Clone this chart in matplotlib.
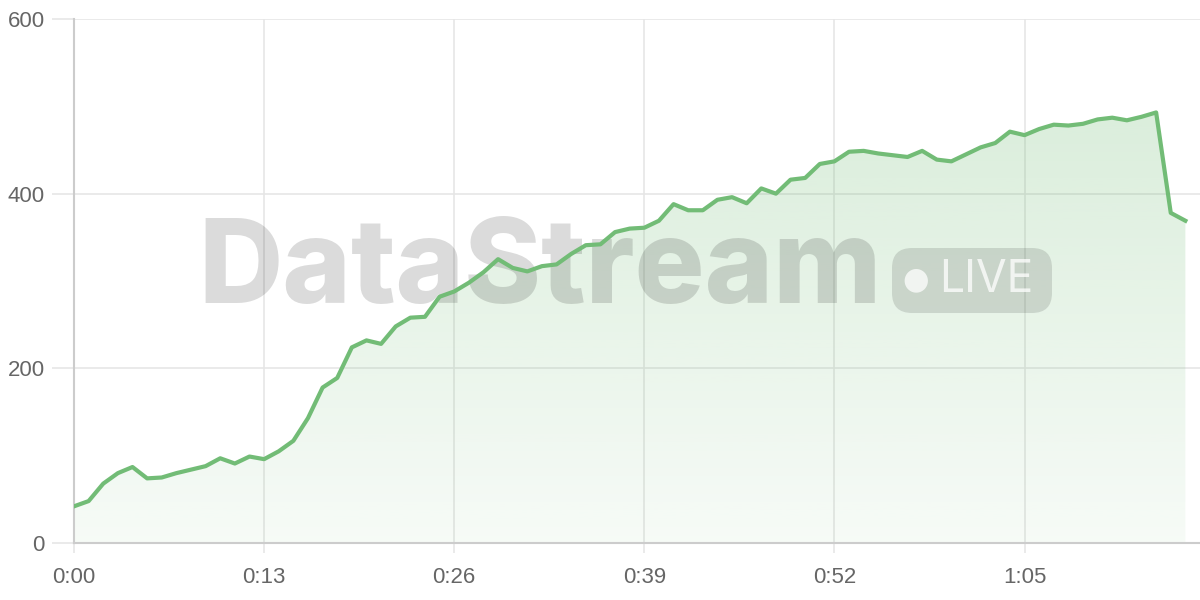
import matplotlib
matplotlib.use("Agg")
import matplotlib.pyplot as plt
import numpy as np
from matplotlib.patches import FancyBboxPatch

seconds = list(range(0, 77))
values = [42, 48, 68, 80, 87, 74, 75, 80, 84, 88,
          97, 91, 99, 96, 105, 117, 143, 178, 189, 224,
          232, 228, 248, 258, 259, 282, 288, 298, 310, 325,
          315, 311, 317, 319, 331, 341, 342, 356, 360, 361,
          369, 388, 381, 381, 393, 396, 389, 406, 400, 416,
          418, 434, 437, 448, 449, 446, 444, 442, 449, 439,
          437, 445, 453, 458, 471, 467, 474, 479, 478, 480,
          485, 487, 484, 488, 493, 378, 369]
x_ticks = [0, 13, 26, 39, 52, 65]
x_labels = ["0:00", "0:13", "0:26", "0:39", "0:52", "1:05"]
y_ticks = [0, 200, 400, 600]

line_color = "#72bc76"
grid_color = "#e6e6e6"
axis_color = "#cccccc"
text_color = "#666666"

fig = plt.figure(figsize=(12, 6), dpi=100)
ax = fig.add_axes([74 / 1200, 1 - 543 / 600, 1 - 74 / 1200, (543 - 19) / 600])
ax.set_xlim(0, 77)
ax.set_ylim(0, 600)

# gradient fill
x = np.array(seconds, dtype=float)
y = np.array(values, dtype=float)
poly = ax.fill_between(x, y, 0, color="none", lw=0)
grad = np.linspace(0, 1, 256).reshape(-1, 1)
rgba = np.zeros((256, 1, 4))
rgba[..., 0] = 0x72 / 255
rgba[..., 1] = 0xbc / 255
rgba[..., 2] = 0x76 / 255
rgba[..., 3] = (0.06 + 0.24 * grad).reshape(-1, 1)
im = ax.imshow(rgba, extent=[0, 77, 0, 600], origin="lower", aspect="auto", zorder=1)
path = poly.get_paths()[0]
im.set_clip_path(path, transform=ax.transData)

ax.plot(x, y, color=line_color, lw=3, zorder=5, solid_joinstyle="round")

ax.set_xticks(x_ticks)
ax.set_xticklabels(x_labels)
ax.set_yticks(y_ticks)
ax.grid(True, color=grid_color, lw=1.2, zorder=0)
ax.set_axisbelow(True)
for s in ["top", "right"]:
    ax.spines[s].set_visible(False)
for s in ["left", "bottom"]:
    ax.spines[s].set_color(axis_color)
    ax.spines[s].set_linewidth(1.5)
ax.tick_params(axis="y", length=16, width=1.2, color=grid_color, labelsize=16,
               labelcolor=text_color, pad=5)
ax.tick_params(axis="x", length=7, width=1.2, color=grid_color, labelsize=16,
               labelcolor=text_color, pad=10)
for lab in ax.get_xticklabels() + ax.get_yticklabels():
    lab.set_family(["Liberation Sans", "DejaVu Sans"])

# watermark (between fill and line)
ax.text(540 / 1200, 1 - 272 / 600, "DataStream", fontsize=84, fontweight="heavy",
        family=["Inter", "DejaVu Sans"], color=(0, 0, 0, 0.14), ha="center",
        va="center", zorder=3, transform=fig.transFigure, clip_on=False)
pill = FancyBboxPatch((8.92, (600 - 313) / 100), 1.60, 0.65,
                      boxstyle="round,pad=0,rounding_size=0.2",
                      transform=fig.dpi_scale_trans, facecolor=(0, 0, 0, 0.12),
                      edgecolor="none", zorder=3, clip_on=False)
ax.add_artist(pill)
ax.text(916 / 1200, 1 - 280 / 600, "\u25CF", fontsize=22, color=(1, 1, 1, 0.75),
        ha="center", va="center", family=["DejaVu Sans"], zorder=4,
        transform=fig.transFigure, clip_on=False)
ax.text(986 / 1200, 1 - 280 / 600, "LIVE", fontsize=32, color=(1, 1, 1, 0.75),
        ha="center", va="center", family=["Inter", "DejaVu Sans"], zorder=4,
        transform=fig.transFigure, clip_on=False)

fig.savefig("out.png", dpi=100)
